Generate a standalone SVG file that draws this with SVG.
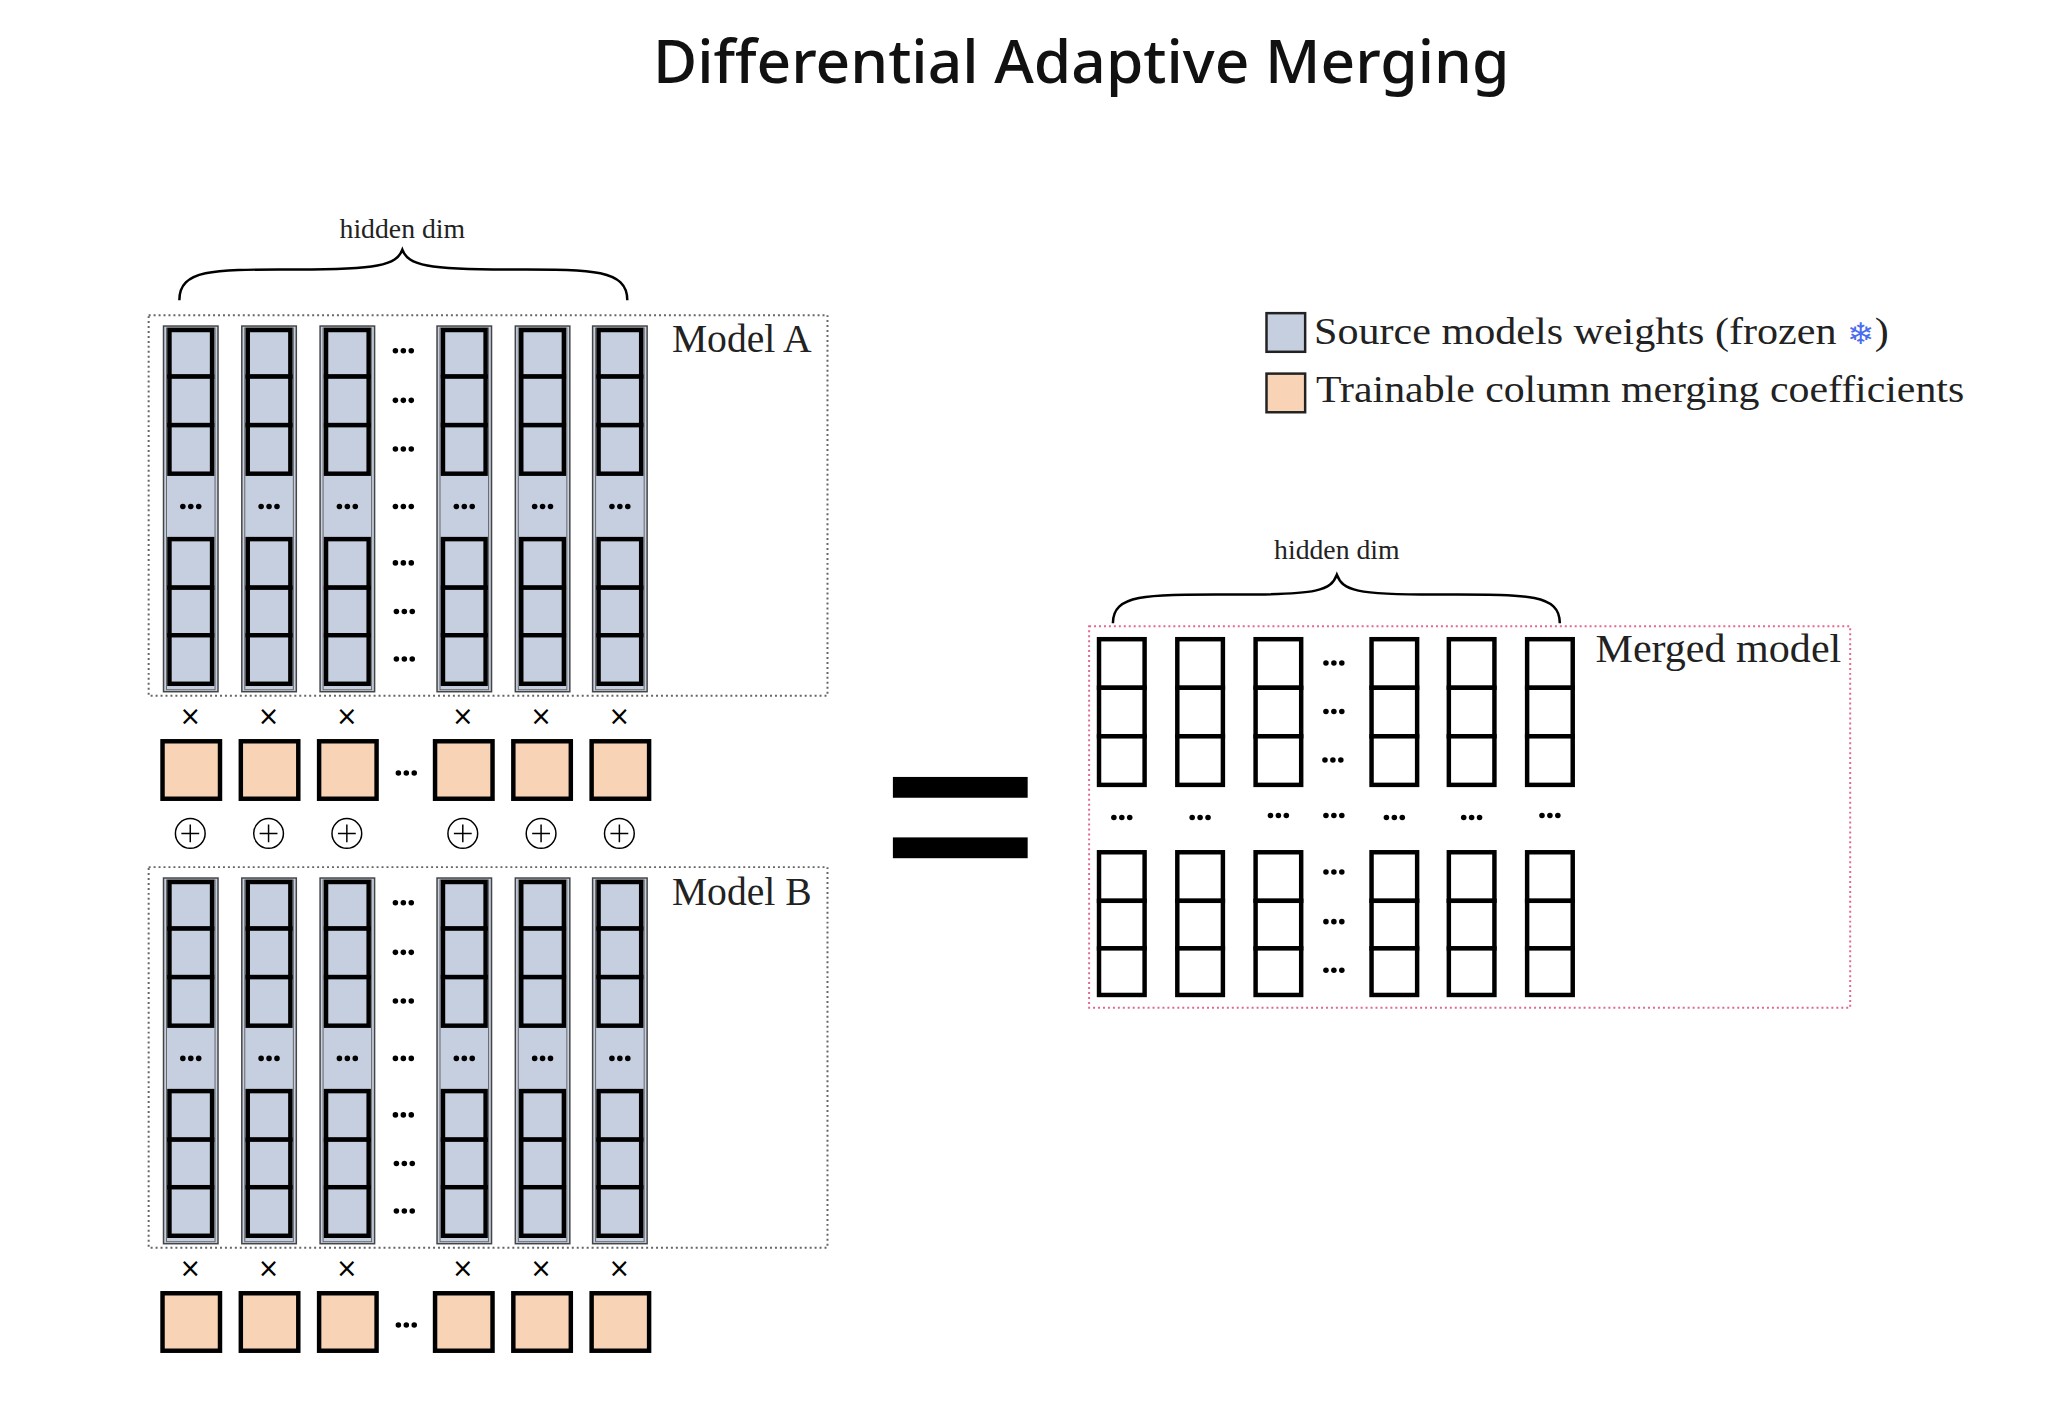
<svg xmlns="http://www.w3.org/2000/svg" xmlns:xlink="http://www.w3.org/1999/xlink" width="2048" height="1424" viewBox="0 0 2048 1424">
<style>
.title{font-family:"Noto Sans",sans-serif;font-size:61px;font-weight:500;fill:#111}
.tex{font-family:"Liberation Serif","DejaVu Serif",serif;fill:#222}
.cell{fill:#c5cfe0;stroke:#000;stroke-width:4.5}
.wcell{fill:#fff;stroke:#000;stroke-width:4.5}
.coef{fill:#f8d3b5;stroke:#000;stroke-width:4.5}
.brace{fill:none;stroke:#000;stroke-width:2.5}
.op{font-family:"DejaVu Sans",sans-serif;font-size:26px;fill:#000;text-anchor:middle}
</style>
<defs>
<g id="d3"><circle cx="-8" cy="0" r="2.8"/><circle cx="0" cy="0" r="2.8"/><circle cx="8" cy="0" r="2.8"/></g>
<g id="bcol">
<rect x="0" y="0" width="55" height="369" fill="#c5cfe0" stroke="#444" stroke-width="1.5"/>
<rect x="3" y="2" width="49" height="365" fill="none" stroke="#666" stroke-width="1"/>
<rect class="cell" x="6" y="4" width="43" height="47"/>
<rect class="cell" x="6" y="51" width="43" height="49"/>
<rect class="cell" x="6" y="100" width="43" height="49"/>
<use xlink:href="#d3" x="27.5" y="182"/>
<rect class="cell" x="6" y="215" width="43" height="49"/>
<rect class="cell" x="6" y="264" width="43" height="48"/>
<rect class="cell" x="6" y="312" width="43" height="49"/>
</g>
<g id="wcol">
<rect class="wcell" x="0" y="0" width="46" height="49"/>
<rect class="wcell" x="0" y="49" width="46" height="49"/>
<rect class="wcell" x="0" y="98" width="46" height="49"/>
<rect class="wcell" x="0" y="215" width="46" height="49"/>
<rect class="wcell" x="0" y="264" width="46" height="48"/>
<rect class="wcell" x="0" y="312" width="46" height="47"/>
</g>
<g id="coefrow">
<rect class="coef" x="164" y="0" width="58" height="58"/>
<rect class="coef" x="243" y="0" width="58" height="58"/>
<rect class="coef" x="322" y="0" width="58" height="58"/>
<rect class="coef" x="439" y="0" width="58" height="58"/>
<rect class="coef" x="518" y="0" width="58" height="58"/>
<rect class="coef" x="597" y="0" width="58" height="58"/>
<use xlink:href="#d3" x="410" y="32"/>
<text class="op" x="192" y="-16">×</text><text class="op" x="271" y="-16">×</text><text class="op" x="350" y="-16">×</text>
<text class="op" x="467" y="-16">×</text><text class="op" x="546" y="-16">×</text><text class="op" x="625" y="-16">×</text>
</g>
<g id="model">
<rect x="150" y="0" width="685" height="384" fill="none" stroke="#666" stroke-width="2" stroke-dasharray="2,3"/>
<use xlink:href="#bcol" x="165" y="11"/>
<use xlink:href="#bcol" x="244" y="11"/>
<use xlink:href="#bcol" x="323" y="11"/>
<use xlink:href="#bcol" x="441" y="11"/>
<use xlink:href="#bcol" x="520" y="11"/>
<use xlink:href="#bcol" x="598" y="11"/>
<use xlink:href="#d3" x="407" y="36"/><use xlink:href="#d3" x="407" y="86"/><use xlink:href="#d3" x="407" y="135"/>
<use xlink:href="#d3" x="407" y="193"/><use xlink:href="#d3" x="407" y="250"/><use xlink:href="#d3" x="408" y="299"/><use xlink:href="#d3" x="408" y="347"/>
</g>
</defs>

<g transform="scale(0.991)">
<text class="title" x="1091" y="84" text-anchor="middle">Differential Adaptive Merging</text>

<g id="hidden-dim-a">
<text class="tex" x="406" y="240" font-size="28" text-anchor="middle">hidden dim</text>
<path class="brace" d="M181,303 C181,270 220,272 300,272 C380,272 400,268 406,252 C412,268 432,272 512,272 C592,272 633,270 633,303"/>
</g>

<g id="model-a">
<use xlink:href="#model" y="318"/>
<text class="tex" x="678" y="355" font-size="40">Model A</text>
</g>
<g id="coef-a"><use xlink:href="#coefrow" y="748"/></g>

<g id="plus-row">
<g fill="none" stroke="#000" stroke-width="1.5">
<circle cx="192" cy="841" r="15"/><circle cx="271" cy="841" r="15"/><circle cx="350" cy="841" r="15"/>
<circle cx="467" cy="841" r="15"/><circle cx="546" cy="841" r="15"/><circle cx="625" cy="841" r="15"/>
<path d="M183,841h18M192,832v18M262,841h18M271,832v18M341,841h18M350,832v18M458,841h18M467,832v18M537,841h18M546,832v18M616,841h18M625,832v18"/>
</g>
</g>

<g id="model-b">
<use xlink:href="#model" y="875"/>
<text class="tex" x="678" y="913" font-size="40">Model B</text>
</g>
<g id="coef-b"><use xlink:href="#coefrow" y="1305"/></g>

<g id="equals">
<rect x="901" y="784" width="136" height="21" fill="#000"/>
<rect x="901" y="845" width="136" height="21" fill="#000"/>
</g>

<g id="legend">
<rect x="1278" y="316" width="39" height="39" fill="#c5cfe0" stroke="#222" stroke-width="2.5"/>
<text class="tex" x="1326" y="347" font-size="38" textLength="580" lengthAdjust="spacingAndGlyphs">Source models weights (frozen <tspan fill="#4a6cf0" font-family="DejaVu Sans,sans-serif" font-size="30">❄</tspan>)</text>
<rect x="1278" y="377" width="39" height="39" fill="#f8d3b5" stroke="#222" stroke-width="2.5"/>
<text class="tex" x="1328" y="406" font-size="38" textLength="654" lengthAdjust="spacingAndGlyphs">Trainable column merging coefficients</text>
</g>

<g id="hidden-dim-merged">
<text class="tex" x="1349" y="564" font-size="28" text-anchor="middle">hidden dim</text>
<path class="brace" d="M1123,629 C1123,598 1160,600 1250,600 C1330,600 1343,596 1349,580 C1355,596 1368,600 1448,600 C1538,600 1574,598 1574,629"/>
</g>

<g id="merged-model">
<rect x="1099" y="632" width="768" height="385" fill="none" stroke="#e06a8c" stroke-width="2" stroke-dasharray="2,3"/>
<use xlink:href="#wcol" x="1109" y="645"/>
<use xlink:href="#wcol" x="1188" y="645"/>
<use xlink:href="#wcol" x="1267" y="645"/>
<use xlink:href="#wcol" x="1384" y="645"/>
<use xlink:href="#wcol" x="1462" y="645"/>
<use xlink:href="#wcol" x="1541" y="645"/>
<use xlink:href="#d3" x="1346" y="669"/><use xlink:href="#d3" x="1346" y="718"/><use xlink:href="#d3" x="1345" y="767"/>
<use xlink:href="#d3" x="1132" y="825"/><use xlink:href="#d3" x="1211" y="825"/><use xlink:href="#d3" x="1290" y="823"/><use xlink:href="#d3" x="1346" y="823"/>
<use xlink:href="#d3" x="1407" y="825"/><use xlink:href="#d3" x="1485" y="825"/><use xlink:href="#d3" x="1564" y="823"/>
<use xlink:href="#d3" x="1346" y="880"/><use xlink:href="#d3" x="1346" y="930"/><use xlink:href="#d3" x="1346" y="979"/>
<text class="tex" x="1610" y="668" font-size="40" textLength="248" lengthAdjust="spacingAndGlyphs">Merged model</text>
</g>
</g>
</svg>
